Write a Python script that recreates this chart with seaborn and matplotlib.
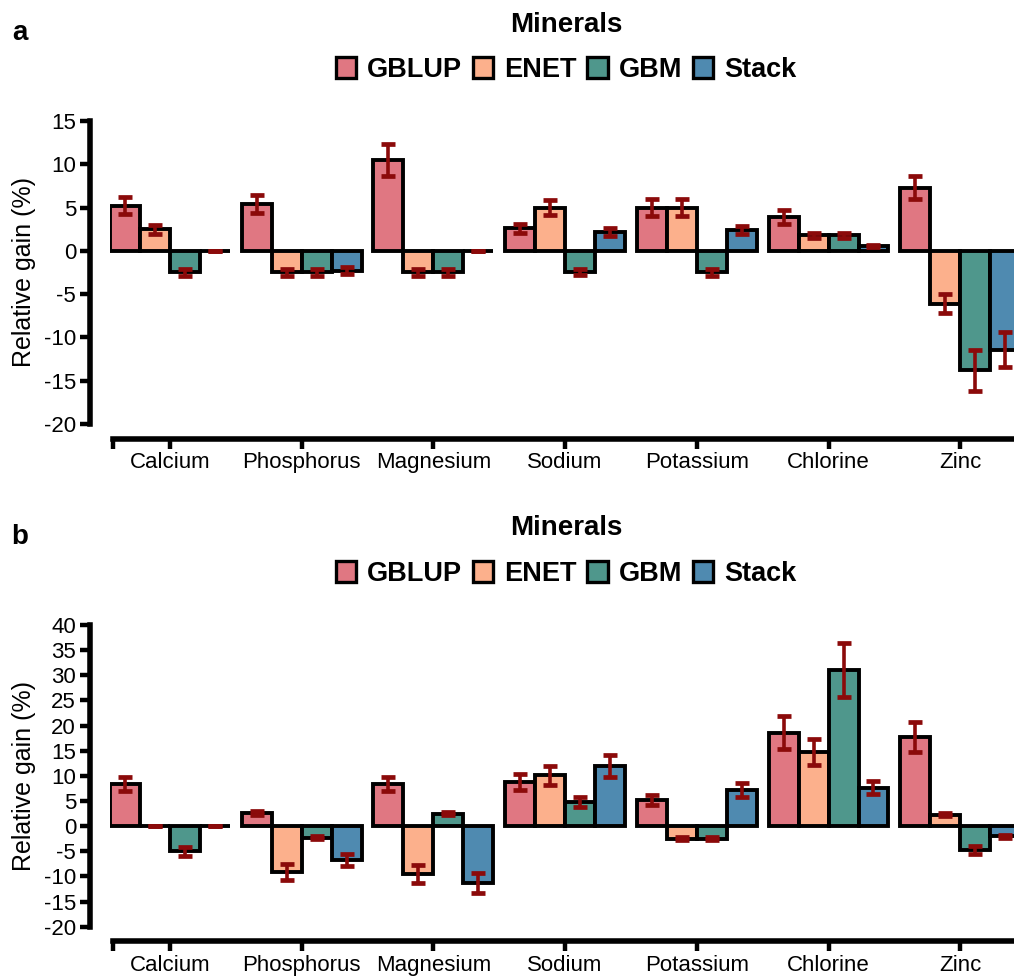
import numpy as np
import pandas as pd
import matplotlib
matplotlib.use('Agg')
import matplotlib.pyplot as plt
import seaborn as sns
from matplotlib.patches import Patch

# categories and models
minerals = ['Calcium', 'Phosphorus', 'Magnesium', 'Sodium', 'Potassium', 'Chlorine', 'Zinc']
models = ['GBLUP', 'ENET', 'GBM', 'Stack']
colors = ['#E07782', '#FCB08C', '#4F978C', '#4F8AB0']
err_color = '#8B0A0A'

# panel a: relative gain (%) and error
gblup_a = [5.2, 5.4, 10.5, 2.6, 5.0, 3.95, 7.3]
enet_a = [2.5, -2.5, -2.5, 5.0, 5.0, 1.8, -6.1]
gbm_a = [-2.5, -2.5, -2.5, -2.4, -2.5, 1.8, -13.8]
stack_a = [0.0, -2.3, 0.0, 2.2, 2.4, 0.55, -11.4]
gblup_a_err = [1.0, 1.0, 1.8, 0.55, 1.0, 0.8, 1.3]
enet_a_err = [0.5, 0.4, 0.4, 0.9, 1.0, 0.3, 1.1]
gbm_a_err = [0.4, 0.4, 0.4, 0.35, 0.4, 0.3, 2.4]
stack_a_err = [0.0, 0.4, 0.0, 0.45, 0.5, 0.15, 2.0]

# panel b
gblup_b = [8.4, 2.7, 8.4, 8.75, 5.2, 18.6, 17.7]
enet_b = [0.0, -9.1, -9.6, 10.1, -2.5, 14.7, 2.25]
gbm_b = [-5.0, -2.3, 2.5, 4.8, -2.5, 31.1, -4.7]
stack_b = [0.0, -6.7, -11.3, 11.9, 7.2, 7.6, -2.05]
gblup_b_err = [1.4, 0.4, 1.4, 1.65, 1.0, 3.25, 3.05]
enet_b_err = [0.0, 1.6, 1.8, 1.9, 0.3, 2.6, 0.3]
gbm_b_err = [0.9, 0.3, 0.3, 0.9, 0.3, 5.4, 0.8]
stack_b_err = [0.0, 1.25, 2.0, 2.15, 1.35, 1.3, 0.3]

sns.set_style('ticks', {'axes.edgecolor': 'black', 'text.color': 'black',
                        'axes.labelcolor': 'black', 'xtick.color': 'black',
                        'ytick.color': 'black'})
plt.rcParams['font.family'] = ['Liberation Sans', 'DejaVu Sans']
plt.rcParams['axes.unicode_minus'] = False

W, H = 1014, 976
fig = plt.figure(figsize=(W / 100, H / 100), dpi=100)


def make_df(vals, errs):
    rows = []
    for m, v, e in zip(models, vals, errs):
        for cat, val, er in zip(minerals, v, e):
            rows.append({'mineral': cat, 'model': m, 'gain': val, 'err': er})
    return pd.DataFrame(rows)


def draw_panel(ax, df, ylim, yticks):
    sns.barplot(data=df, x='mineral', y='gain', hue='model', order=minerals,
                hue_order=models, palette=colors, saturation=1, width=0.91,
                edgecolor='black', linewidth=2.8, errorbar=None, legend=False,
                ax=ax, zorder=2)
    # error bars placed on the drawn bars
    bar_conts = list(ax.containers)
    for h, cont in enumerate(bar_conts):
        sub = df[df['model'] == models[h]].set_index('mineral')
        for bar in cont:
            cx = bar.get_x() + bar.get_width() / 2
            cat = minerals[int(round(cx))]
            ax.errorbar(cx, sub.loc[cat, 'gain'], yerr=sub.loc[cat, 'err'],
                        fmt='none', ecolor=err_color, elinewidth=2.6,
                        capsize=4.8, capthick=3.4, zorder=5)
    x0, x1 = -0.4556, 6.408
    ax.set_xlim(x0, x1)
    ax.set_ylim(*ylim)
    ax.set_yticks(yticks)
    ax.set_xticks([x0 + 0.02], minor=True)
    sns.despine(ax=ax)
    ax.spines['left'].set_position(('outward', 14.4))
    ax.spines['bottom'].set_position(('outward', 10.5))
    ax.spines['left'].set_linewidth(4)
    ax.spines['bottom'].set_linewidth(4)
    ax.spines['left'].set_bounds(ylim[0], ylim[1])
    ax.spines['bottom'].set_bounds(x0 + 0.02, x1)
    ax.tick_params(axis='both', which='both', length=7, width=3.2,
                   labelsize=16, pad=3, color='black', labelcolor='black')
    ax.set_xlabel('')
    ax.set_ylabel('Relative gain (%)', fontsize=18, color='black')
    ax.yaxis.set_label_coords(-0.082, 0.5)
    ax.patch.set_alpha(0)


ax_a = fig.add_axes([110 / W, 1 - 424 / H, 1 - 110 / W, 303 / H])
draw_panel(ax_a, make_df([gblup_a, enet_a, gbm_a, stack_a],
                         [gblup_a_err, enet_a_err, gbm_a_err, stack_a_err]),
           (-20, 15), np.arange(-20, 16, 5))

ax_b = fig.add_axes([110 / W, 1 - 926.7 / H, 1 - 110 / W, 301.7 / H])
draw_panel(ax_b, make_df([gblup_b, enet_b, gbm_b, stack_b],
                         [gblup_b_err, enet_b_err, gbm_b_err, stack_b_err]),
           (-20, 40), np.arange(-20, 41, 5))

handles = [Patch(facecolor=c, edgecolor='black', linewidth=2.4, label=m)
           for c, m in zip(colors, models)]

for title_y, leg_y, lab_y, lab in [(25, 70, 33, 'a'), (528, 574, 537, 'b')]:
    fig.text(566 / W, 1 - title_y / H, 'Minerals', fontsize=20,
             fontweight='bold', ha='center', va='center', color='black')
    fig.legend(handles=handles, loc='center', bbox_to_anchor=(566 / W, 1 - leg_y / H),
               ncol=4, frameon=False, prop={'size': 19.5, 'weight': 'bold'},
               labelcolor='black', handlelength=0.75, handleheight=0.78,
               handletextpad=0.4, columnspacing=0.4, borderpad=0)
    fig.text(20 / W, 1 - lab_y / H, lab, fontsize=20, fontweight='bold',
             ha='center', va='center', color='black')

fig.savefig('out.png', dpi=100)
